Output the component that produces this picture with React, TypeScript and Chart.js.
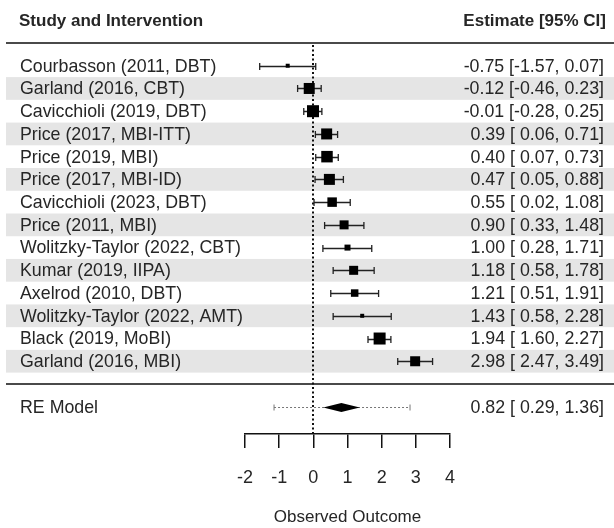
import React, { useEffect, useRef } from "react";
import { Chart, registerables } from "chart.js";

Chart.register(...registerables);

const studies = [
  "Courbasson (2011, DBT)",
  "Garland (2016, CBT)",
  "Cavicchioli (2019, DBT)",
  "Price (2017, MBI-ITT)",
  "Price (2019, MBI)",
  "Price (2017, MBI-ID)",
  "Cavicchioli (2023, DBT)",
  "Price (2011, MBI)",
  "Wolitzky-Taylor (2022, CBT)",
  "Kumar (2019, IIPA)",
  "Axelrod (2010, DBT)",
  "Wolitzky-Taylor (2022, AMT)",
  "Black (2019, MoBI)",
  "Garland (2016, MBI)",
];
const estimates = [-0.75, -0.12, -0.01, 0.39, 0.4, 0.47, 0.55, 0.9, 1.0, 1.18, 1.21, 1.43, 1.94, 2.98];
const lowers = [-1.57, -0.46, -0.28, 0.06, 0.07, 0.05, 0.02, 0.33, 0.28, 0.58, 0.51, 0.58, 1.6, 2.47];
const uppers = [0.07, 0.23, 0.25, 0.71, 0.73, 0.88, 1.08, 1.48, 1.71, 1.78, 1.91, 2.28, 2.27, 3.49];
const weights = [3.2, 8.8, 9.6, 8.8, 9.2, 8.8, 7.6, 7.2, 4.8, 7.2, 6.0, 3.2, 9.6, 8.0];

const reLabel = "RE Model";
const reEstimate = 0.82;
const reLower = 0.29;
const reUpper = 1.36;
const predLower = -1.15;
const predUpper = 2.83;

const xTicks = [-2, -1, 0, 1, 2, 3, 4];
const headerLeft = "Study and Intervention";
const headerRight = "Estimate [95% CI]";
const axisTitle = "Observed Outcome";

const FONT = "'Liberation Sans', Arial, Helvetica, sans-serif";
const TEXT = "#262626";

const n = studies.length;
const rowY = (i: number) => n - i; // 14 .. 1
const RE_Y = -1;

const fmt = (v: number) => v.toFixed(2);
const ciText = (e: number, l: number, u: number) =>
  `${fmt(e)} [${l < 0 ? "" : " "}${fmt(l)}, ${fmt(u)}]`;

const forestPlugin = {
  id: "forest",
  beforeDatasetsDraw(chart: any) {
    const { ctx } = chart;
    const xs = chart.scales.x;
    const ys = chart.scales.y;
    const W = chart.width;
    ctx.save();
    // bands
    ctx.fillStyle = "#e5e5e5";
    for (let i = 0; i < n; i++) {
      if (i % 2 === 1) {
        const t = ys.getPixelForValue(rowY(i) + 0.5);
        const b = ys.getPixelForValue(rowY(i) - 0.5);
        ctx.fillRect(6, t, W - 6, b - t);
      }
    }
    // rules
    ctx.strokeStyle = "#4a4a4a";
    ctx.lineWidth = 2;
    for (const v of [n + 1, 0]) {
      const y = Math.round(ys.getPixelForValue(v));
      ctx.beginPath();
      ctx.moveTo(6, y);
      ctx.lineTo(W, y);
      ctx.stroke();
    }
    // zero reference line
    const x0 = Math.round(xs.getPixelForValue(0));
    ctx.strokeStyle = "#111";
    ctx.lineWidth = 2;
    ctx.setLineDash([2, 2.5]);
    ctx.beginPath();
    ctx.moveTo(x0, ys.getPixelForValue(n + 1) + 2);
    ctx.lineTo(x0, ys.bottom);
    ctx.stroke();
    ctx.setLineDash([]);

    // CI bars
    ctx.strokeStyle = "#222";
    ctx.lineWidth = 1.3;
    for (let i = 0; i < n; i++) {
      const y = Math.round(ys.getPixelForValue(rowY(i))) + 0.5;
      const a = xs.getPixelForValue(lowers[i]);
      const b = xs.getPixelForValue(uppers[i]);
      ctx.beginPath();
      ctx.moveTo(a, y);
      ctx.lineTo(b, y);
      ctx.moveTo(a, y - 3.5);
      ctx.lineTo(a, y + 3.5);
      ctx.moveTo(b, y - 3.5);
      ctx.lineTo(b, y + 3.5);
      ctx.stroke();
    }
    // prediction interval
    const yr = Math.round(ys.getPixelForValue(RE_Y)) + 0.5;
    const pa = xs.getPixelForValue(predLower);
    const pb = xs.getPixelForValue(predUpper);
    ctx.strokeStyle = "#777";
    ctx.lineWidth = 1;
    ctx.setLineDash([2, 2]);
    ctx.beginPath();
    ctx.moveTo(pa, yr);
    ctx.lineTo(pb, yr);
    ctx.stroke();
    ctx.setLineDash([]);
    ctx.beginPath();
    ctx.moveTo(pa, yr - 3);
    ctx.lineTo(pa, yr + 3);
    ctx.moveTo(pb, yr - 3);
    ctx.lineTo(pb, yr + 3);
    ctx.stroke();
    // diamond
    ctx.fillStyle = "#000";
    ctx.beginPath();
    ctx.moveTo(xs.getPixelForValue(reLower), yr);
    ctx.lineTo(xs.getPixelForValue(reEstimate), yr - 4.5);
    ctx.lineTo(xs.getPixelForValue(reUpper), yr);
    ctx.lineTo(xs.getPixelForValue(reEstimate), yr + 4.5);
    ctx.closePath();
    ctx.fill();
    ctx.restore();
  },
  afterDraw(chart: any) {
    const { ctx } = chart;
    const ys = chart.scales.y;
    ctx.save();
    ctx.textBaseline = "middle";
    ctx.fillStyle = TEXT;
    // headers
    ctx.font = `bold 17px ${FONT}`;
    const hy = ys.getPixelForValue(n + 2) + 1;
    ctx.textAlign = "left";
    ctx.fillText(headerLeft, 19, hy);
    ctx.textAlign = "right";
    ctx.fillText(headerRight, 606, hy);
    // rows
    ctx.font = `17.8px ${FONT}`;
    for (let i = 0; i < n; i++) {
      const y = ys.getPixelForValue(rowY(i)) + 1;
      ctx.textAlign = "left";
      ctx.fillText(studies[i], 20, y);
      ctx.textAlign = "right";
      ctx.fillText(ciText(estimates[i], lowers[i], uppers[i]), 604, y);
    }
    const yr = ys.getPixelForValue(RE_Y) + 1;
    ctx.textAlign = "left";
    ctx.fillText(reLabel, 20, yr);
    ctx.textAlign = "right";
    ctx.fillText(ciText(reEstimate, reLower, reUpper), 604, yr);
    ctx.restore();
  },
};

export default function App() {
  const ref = useRef<HTMLCanvasElement | null>(null);
  useEffect(() => {
    document.body.style.margin = "0";
    const canvas = ref.current!;
    const chart = new Chart(canvas, {
      type: "scatter",
      data: {
        datasets: [
          {
            data: estimates.map((e, i) => ({ x: e, y: rowY(i) })),
            pointStyle: "rect",
            pointRadius: weights.map((w) => (w * 1.25) / Math.SQRT2),
            pointHoverRadius: weights.map((w) => (w * 1.25) / Math.SQRT2),
            pointBackgroundColor: "#000",
            pointBorderWidth: 0,
            borderWidth: 0,
          },
        ],
      },
      options: {
        responsive: false,
        animation: false,
        events: [],
        layout: { padding: { left: 245, right: 164, top: 43, bottom: 0 } },
        plugins: { legend: { display: false }, tooltip: { enabled: false } },
        scales: {
          x: {
            type: "linear",
            min: -2,
            max: 4,
            afterBuildTicks: (s: any) => {
              s.ticks = xTicks.map((v) => ({ value: v }));
            },
            afterFit: (s: any) => {
              s.height = 94;
            },
            grid: {
              drawOnChartArea: false,
              drawTicks: true,
              tickLength: 14,
              color: "#111",
              lineWidth: 1.5,
            },
            border: { display: true, color: "#111", width: 1.5 },
            ticks: {
              padding: 19,
              color: TEXT,
              font: { family: FONT, size: 18 },
              maxRotation: 0,
            },
            title: {
              display: true,
              text: axisTitle,
              color: TEXT,
              font: { family: FONT, size: 17 },
              padding: { top: 0, bottom: 0 },
            },
          },
          y: {
            type: "linear",
            display: false,
            min: -2.2,
            max: 15,
          },
        },
      },
      plugins: [forestPlugin],
    });
    return () => chart.destroy();
  }, []);
  return <canvas ref={ref} width={614} height={528} style={{ display: "block" }} />;
}
